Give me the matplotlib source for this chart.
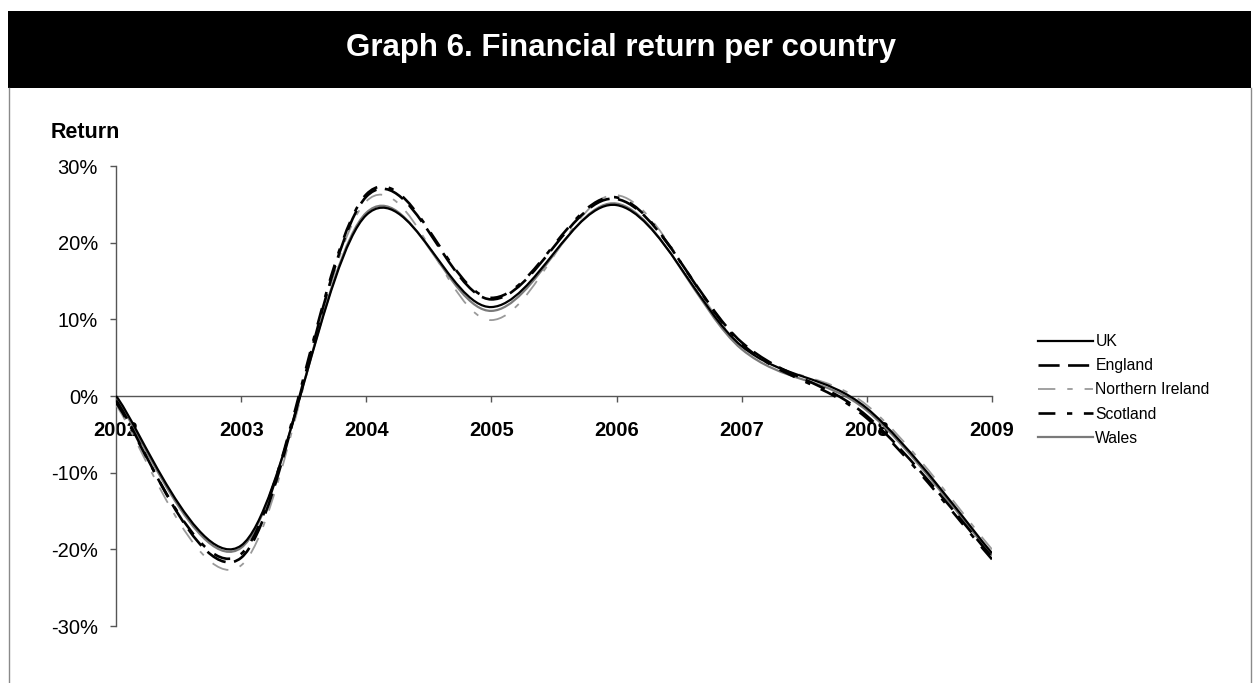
import matplotlib
matplotlib.use("Agg")
import matplotlib.pyplot as plt
from matplotlib.path import Path
from matplotlib.patches import PathPatch, Rectangle
from matplotlib.lines import Line2D
from matplotlib.ticker import FixedLocator, FuncFormatter

plt.rcParams['font.family'] = ['Liberation Sans', 'DejaVu Sans']

# Annual financial return (%) per country
years = [2002, 2003, 2004, 2005, 2006, 2007, 2008, 2009]
uk = [0.0, -19.5, 23.6, 11.6, 24.9, 6.5, -1.6, -20.5]
england = [-0.6, -21.1, 26.0, 12.6, 25.7, 7.0, -2.6, -21.0]
northern_ireland = [-1.2, -22.1, 25.4, 9.9, 26.2, 6.5, -1.2, -20.0]
scotland = [-0.9, -20.6, 26.3, 12.8, 25.9, 6.8, -2.9, -21.3]
wales = [-0.3, -19.8, 23.9, 11.1, 25.1, 6.1, -1.9, -20.8]

series_names = ["UK", "England", "Northern Ireland", "Scotland", "Wales"]
series_values = [uk, england, northern_ireland, scotland, wales]
y_ticks = [-30, -20, -10, 0, 10, 20, 30]

W, H = 1254, 683
fig = plt.figure(figsize=(W / 100, H / 100), dpi=100)


def fx(x):
    return x / W


def fy(y):
    return 1 - y / H


# Black title band
fig.patches.append(Rectangle((fx(8), fy(88)), fx(1251) - fx(8), fy(11) - fy(88),
                             transform=fig.transFigure, facecolor='black',
                             edgecolor='none'))
fig.text(fx(621), fy(48), "Graph 6. Financial return per country", color='white',
         fontsize=22.5, fontweight='bold', ha='center', va='center')

# Thin frame below the band
for xb in (9, 1251):
    fig.add_artist(Line2D([fx(xb), fx(xb)], [fy(88), 0], color='#8a8a8a', lw=1.0,
                          transform=fig.transFigure))

ax = fig.add_axes([fx(116), fy(626), fx(992) - fx(116), fy(166) - fy(626)])
ax.set_xlim(years[0], years[-1])
ax.set_ylim(-30, 30)
ax.patch.set_alpha(0)


def smooth_path(xs, ys):
    """Smoothed line through the points, built from cubic Bezier segments."""
    pts = list(zip(xs, ys))
    n = len(pts)
    verts = [pts[0]]
    codes = [Path.MOVETO]
    for i in range(n - 1):
        p0 = pts[max(i - 1, 0)]
        p1 = pts[i]
        p2 = pts[i + 1]
        p3 = pts[min(i + 2, n - 1)]
        c1 = (p1[0] + (p2[0] - p0[0]) / 6, p1[1] + (p2[1] - p0[1]) / 6)
        c2 = (p2[0] - (p3[0] - p1[0]) / 6, p2[1] - (p3[1] - p1[1]) / 6)
        verts += [c1, c2, p2]
        codes += [Path.CURVE4] * 3
    return Path(verts, codes)


styles = {
    "UK": dict(color='black', lw=1.6, ls='-', z=6),
    "England": dict(color='black', lw=1.9, ls=(0, (8, 3.2)), z=5),
    "Northern Ireland": dict(color='#9a9a9a', lw=1.3, ls=(0, (9.6, 6.6, 3, 6.6)), z=3),
    "Scotland": dict(color='black', lw=1.9, ls=(0, (6.4, 4.4, 2, 4.4)), z=4),
    "Wales": dict(color='#7a7a7a', lw=1.6, ls='-', z=2),
}

handles = []
for name, vals in zip(series_names, series_values):
    st = styles[name]
    patch = PathPatch(smooth_path(years, vals), fill=False, edgecolor=st['color'],
                      lw=st['lw'], linestyle=st['ls'], zorder=st['z'],
                      transform=ax.transData, capstyle='butt')
    ax.add_patch(patch)
    handles.append(Line2D([], [], color=st['color'], lw=st['lw'], linestyle=st['ls']))

# Axes styling
for side in ('top', 'right'):
    ax.spines[side].set_visible(False)
ax.spines['bottom'].set_position(('data', 0))
ax.spines['bottom'].set_color('#555555')
ax.spines['left'].set_color('#555555')
ax.spines['bottom'].set_linewidth(1.0)
ax.spines['left'].set_linewidth(1.0)

ax.xaxis.set_major_locator(FixedLocator(years))
ax.xaxis.set_major_formatter(FuncFormatter(lambda v, p: f"{int(round(v))}"))
ax.yaxis.set_major_locator(FixedLocator(y_ticks))
ax.yaxis.set_major_formatter(FuncFormatter(lambda v, p: f"{int(round(v))}%"))

ax.tick_params(axis='x', direction='out', length=4, width=1, color='#555555',
               pad=14, labelsize=14.5)
ax.tick_params(axis='y', direction='out', length=4.5, width=1, color='#555555',
               pad=8.5, labelsize=14.5)
for lab in ax.get_xticklabels():
    lab.set_fontweight('bold')

fig.text(fx(51), fy(133), "Return", fontweight='bold', fontsize=15.5,
         ha='left', va='center')

fig.legend(handles, series_names, loc='center left',
           bbox_to_anchor=(fx(1038), fy(390)), frameon=False, fontsize=11.3,
           handlelength=3.5, handletextpad=0.15, labelspacing=0.58,
           borderpad=0, borderaxespad=0)

fig.savefig("out.png", dpi=100, facecolor='white')
